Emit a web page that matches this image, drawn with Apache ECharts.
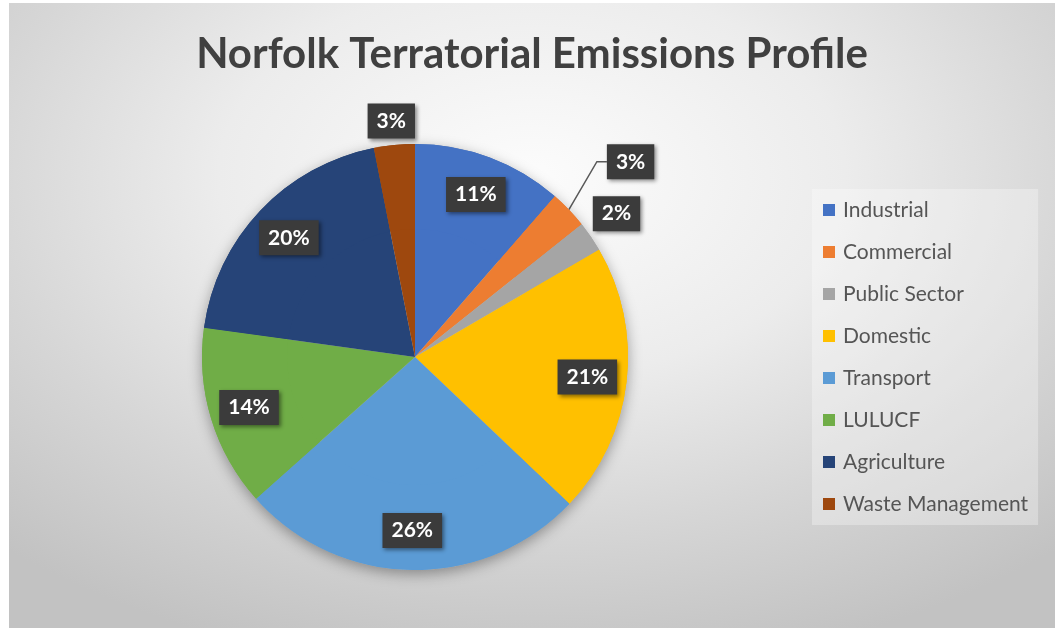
<!DOCTYPE html>
<html>
<head>
<meta charset="utf-8">
<script src="https://cdn.jsdelivr.net/npm/echarts@6/dist/echarts.min.js"></script>
<style>
    html, body { margin: 0; padding: 0; background: #ffffff; }
    #chart {
        position: absolute; left: 9px; top: 3px; width: 1046px; height: 625px;
        background: radial-gradient(ellipse 75% 80% at 50% 28%, #fcfcfc 0%, #ececec 40%, #d6d6d6 70%, #c2c2c2 100%);
    }
</style>
</head>
<body>
<div id="chart"></div>
<script>
    const sectors = ['Industrial', 'Commercial', 'Public Sector', 'Domestic', 'Transport', 'LULUCF', 'Agriculture', 'Waste Management'];
    const shares = [11.4, 2.9, 2.3, 20.5, 26.3, 13.8, 19.7, 3.1];
    const colors = ['#4472C4', '#ED7D31', '#A5A5A5', '#FFC000', '#5B9BD5', '#70AD47', '#264478', '#9E480E'];
    // the small slices get their label outside the pie, like excel's best fit
    const outsideLabels = ['Commercial', 'Public Sector', 'Waste Management'];

    const chart = echarts.init(document.getElementById('chart'), null, { renderer: 'canvas' });

    const center = [406, 354];
    const radius = 213;

    let labelStyle = {
        color: '#ffffff',
        fontFamily: 'Lato',
        fontWeight: 'bold',
        fontSize: 21,
        backgroundColor: '#3b3b3b',
        padding: [8, 9, 6, 9],
        shadowColor: 'rgba(0,0,0,0.45)',
        shadowBlur: 4,
        shadowOffsetX: 2,
        shadowOffsetY: 2,
        formatter: (p) => Math.round(p.percent) + '%'
    };

    const baseData = sectors.map((name, i) => {
        const outside = outsideLabels.indexOf(name) >= 0;
        return {
            name: name,
            value: shares[i],
            itemStyle: { color: colors[i] },
            label: { show: outside, position: 'outside' },
            labelLine: { show: name === 'Commercial' }
        };
    });

    const innerData = sectors.map((name, i) => ({
        name: name,
        value: shares[i],
        itemStyle: { color: colors[i] },
        label: { show: outsideLabels.indexOf(name) < 0 }
    }));

    chart.setOption({
        backgroundColor: 'transparent',
        animation: false,
        title: {
            text: 'Norfolk Terratorial Emissions Profile',
            left: 'center',
            top: 25,
            textStyle: { fontFamily: 'Lato', fontWeight: 'bold', fontSize: 42, color: '#404040' }
        },
        legend: {
            orient: 'vertical',
            left: 803,
            top: 186,
            padding: [10, 10, 10, 11],
            backgroundColor: 'rgba(255,255,255,0.3)',
            itemWidth: 12,
            itemHeight: 12,
            itemGap: 20,
            icon: 'rect',
            data: sectors,
            textStyle: { fontFamily: 'Lato', fontSize: 21, color: '#555555', lineHeight: 22, padding: [0, 0, 0, 3] }
        },
        series: [
            {
                // soft shadow under the whole pie
                type: 'pie',
                silent: true,
                center: center,
                radius: radius,
                label: { show: false },
                itemStyle: { color: '#bbbbbb', shadowBlur: 14, shadowColor: 'rgba(0,0,0,0.35)', shadowOffsetY: 4 },
                data: [{ name: 'shadow', value: 1 }]
            },
            {
                type: 'pie',
                center: center,
                radius: radius,
                startAngle: 90,
                clockwise: true,
                avoidLabelOverlap: false,
                label: labelStyle,
                labelLine: { length: 10, length2: 10, lineStyle: { color: '#595959', width: 1.5 } },
                labelLayout: function (params) {
                    const p0 = params.labelLinePoints ? params.labelLinePoints[0] : null;
                    if (!p0) return {};
                    const name = sectors[params.dataIndex];
                    if (name === 'Waste Management') {
                        return { x: p0[0] - 3, y: p0[1] - 24, align: 'center', verticalAlign: 'middle' };
                    }
                    if (name === 'Public Sector') {
                        return { x: p0[0] + 2, y: p0[1] - 23, align: 'left', verticalAlign: 'middle' };
                    }
                    if (name === 'Commercial') {
                        return { x: p0[0] + 38, y: p0[1] - 48, align: 'left', verticalAlign: 'middle' };
                    }
                    return {};
                },
                data: baseData
            },
            {
                type: 'pie',
                center: center,
                radius: [128, radius],
                startAngle: 90,
                clockwise: true,
                label: Object.assign({}, labelStyle, { position: 'inside' }),
                labelLine: { show: false },
                data: innerData
            }
        ]
    });
</script>
</body>
</html>
